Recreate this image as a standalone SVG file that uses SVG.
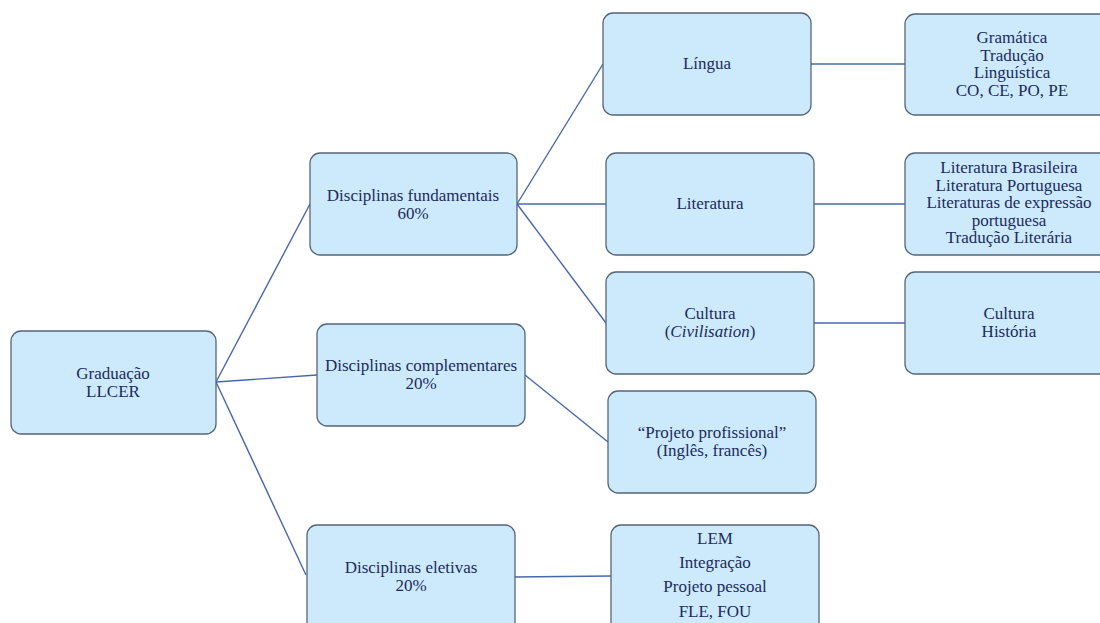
<svg xmlns="http://www.w3.org/2000/svg" width="1100" height="623" viewBox="0 0 1100 623">
<style>
.box{fill:#cdeafd;stroke:#556678;stroke-width:1.3}
.t{font-family:'Liberation Serif','Times New Roman','DejaVu Serif',serif;font-size:17px;fill:#1b2a5c;text-anchor:middle}
.c{stroke:#4868a8;stroke-width:1.4;fill:none}
</style>
<rect width="1100" height="623" fill="#ffffff"/>
<g id="connectors">
<line class="c" x1="216" y1="382" x2="310" y2="204"/>
<line class="c" x1="216" y1="382" x2="317" y2="375"/>
<line class="c" x1="216" y1="382" x2="306" y2="575"/>
<line class="c" x1="517" y1="204" x2="603" y2="64"/>
<line class="c" x1="517" y1="204" x2="606" y2="204"/>
<line class="c" x1="517" y1="204" x2="606" y2="323"/>
<line class="c" x1="525" y1="375" x2="608" y2="442"/>
<line class="c" x1="514" y1="577" x2="611" y2="576"/>
<line class="c" x1="811" y1="64" x2="905" y2="64"/>
<line class="c" x1="814" y1="204" x2="905" y2="204"/>
<line class="c" x1="814" y1="323" x2="905" y2="323"/>
</g>
<g id="graduacao">
<rect class="box" x="11" y="331" width="205" height="103" rx="10"/>
<text class="t" x="113" y="379">Graduação</text>
<text class="t" x="113" y="397">LLCER</text>
</g>
<g id="fundamentais">
<rect class="box" x="310" y="153" width="207" height="102" rx="10"/>
<text class="t" x="413" y="201">Disciplinas fundamentais</text>
<text class="t" x="413" y="219">60%</text>
</g>
<g id="complementares">
<rect class="box" x="317" y="324" width="208" height="102" rx="10"/>
<text class="t" x="421" y="371">Disciplinas complementares</text>
<text class="t" x="421" y="389">20%</text>
</g>
<g id="eletivas">
<rect class="box" x="307" y="525" width="208" height="110" rx="10"/>
<text class="t" x="411" y="573">Disciplinas eletivas</text>
<text class="t" x="411" y="591">20%</text>
</g>
<g id="lingua">
<rect class="box" x="603" y="13" width="208" height="102" rx="10"/>
<text class="t" x="707" y="69">Língua</text>
</g>
<g id="literatura">
<rect class="box" x="606" y="153" width="208" height="102" rx="10"/>
<text class="t" x="710" y="209">Literatura</text>
</g>
<g id="cultura">
<rect class="box" x="606" y="272" width="208" height="102" rx="10"/>
<text class="t" x="710" y="319">Cultura</text>
<text class="t" x="710" y="337">(<tspan font-style="italic">Civilisation</tspan>)</text>
</g>
<g id="projeto">
<rect class="box" x="608" y="391" width="208" height="102" rx="10"/>
<text class="t" x="712" y="438">“Projeto profissional”</text>
<text class="t" x="712" y="456">(Inglês, francês)</text>
</g>
<g id="lem">
<rect class="box" x="611" y="525" width="208" height="110" rx="10"/>
<text class="t" x="715" y="544">LEM</text>
<text class="t" x="715" y="568">Integração</text>
<text class="t" x="715" y="592">Projeto pessoal</text>
<text class="t" x="715" y="617">FLE, FOU</text>
</g>
<g id="gramatica">
<rect class="box" x="905" y="14" width="213" height="101" rx="10"/>
<text class="t" x="1012" y="43">Gramática</text>
<text class="t" x="1012" y="61">Tradução</text>
<text class="t" x="1012" y="78">Linguística</text>
<text class="t" x="1012" y="96">CO, CE, PO, PE</text>
</g>
<g id="literaturas">
<rect class="box" x="905" y="153" width="213" height="102" rx="10"/>
<text class="t" x="1009" y="173">Literatura Brasileira</text>
<text class="t" x="1009" y="191">Literatura Portuguesa</text>
<text class="t" x="1009" y="208">Literaturas de expressão</text>
<text class="t" x="1009" y="226">portuguesa</text>
<text class="t" x="1009" y="243">Tradução Literária</text>
</g>
<g id="cultura-historia">
<rect class="box" x="905" y="272" width="213" height="102" rx="10"/>
<text class="t" x="1009" y="319">Cultura</text>
<text class="t" x="1009" y="337">História</text>
</g>
</svg>
